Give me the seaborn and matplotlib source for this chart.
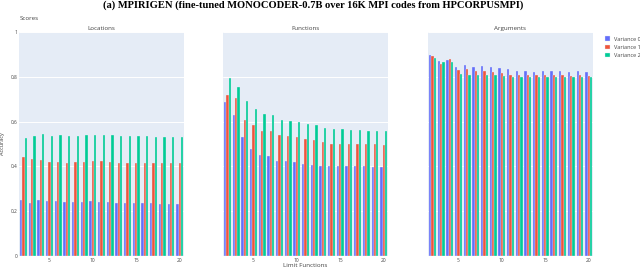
import matplotlib
matplotlib.use("Agg")
import matplotlib.pyplot as plt
import seaborn as sns
import pandas as pd
import numpy as np

limits = list(range(2, 21))
series = ["Variance 0", "Variance 1", "Variance 2"]
colors = ["#636EFA", "#EF553B", "#00CC96"]

loc_v0 = [0.250, 0.238, 0.250, 0.246, 0.246, 0.241, 0.241, 0.243, 0.244, 0.241,
          0.241, 0.237, 0.237, 0.235, 0.235, 0.235, 0.234, 0.234, 0.234]
loc_v1 = [0.443, 0.434, 0.428, 0.420, 0.420, 0.416, 0.419, 0.420, 0.425, 0.423,
          0.420, 0.417, 0.417, 0.416, 0.416, 0.414, 0.414, 0.413, 0.413]
loc_v2 = [0.529, 0.535, 0.544, 0.535, 0.539, 0.535, 0.537, 0.539, 0.542, 0.541,
          0.538, 0.535, 0.535, 0.535, 0.534, 0.532, 0.532, 0.531, 0.531]

fun_v0 = [0.687, 0.630, 0.531, 0.477, 0.449, 0.446, 0.426, 0.423, 0.420, 0.410,
          0.408, 0.402, 0.402, 0.402, 0.402, 0.404, 0.402, 0.399, 0.399]
fun_v1 = [0.720, 0.705, 0.605, 0.584, 0.557, 0.557, 0.540, 0.535, 0.531, 0.523,
          0.517, 0.508, 0.502, 0.502, 0.502, 0.501, 0.499, 0.498, 0.496]
fun_v2 = [0.794, 0.753, 0.693, 0.656, 0.635, 0.629, 0.608, 0.602, 0.599, 0.589,
          0.583, 0.572, 0.568, 0.566, 0.563, 0.562, 0.559, 0.557, 0.557]

arg_v0 = [0.899, 0.872, 0.876, 0.845, 0.851, 0.844, 0.847, 0.845, 0.839, 0.835,
          0.827, 0.827, 0.823, 0.826, 0.826, 0.826, 0.823, 0.826, 0.823]
arg_v1 = [0.894, 0.858, 0.881, 0.829, 0.833, 0.827, 0.824, 0.823, 0.818, 0.809,
          0.809, 0.809, 0.806, 0.806, 0.806, 0.806, 0.805, 0.806, 0.805]
arg_v2 = [0.882, 0.864, 0.867, 0.811, 0.809, 0.809, 0.809, 0.809, 0.805, 0.799,
          0.797, 0.797, 0.797, 0.797, 0.797, 0.797, 0.797, 0.797, 0.797]

panels = [("Locations", [loc_v0, loc_v1, loc_v2]),
          ("Functions", [fun_v0, fun_v1, fun_v2]),
          ("Arguments", [arg_v0, arg_v1, arg_v2])]

title = "(a) MPIRIGEN (fine-tuned MONOCODER-0.7B over 16K MPI codes from HPCORPUSMPI)"

sns.set_theme(style="darkgrid")
plt.rcParams["font.family"] = ["Open Sans", "DejaVu Sans"]

W, H = 640, 269
fig = plt.figure(figsize=(W / 100, H / 100), dpi=100)
fig.patch.set_facecolor("white")

lefts = [19, 223, 428]
width_px = 165
top_px, bot_px = 32, 256
txt = "#444444"

for i, (name, vals) in enumerate(panels):
    ax = fig.add_axes([lefts[i] / W, 1 - bot_px / H, width_px / W, (bot_px - top_px) / H])
    ax.set_facecolor("#E5ECF6")
    df = pd.DataFrame({
        "limit": np.tile(limits, 3),
        "acc": np.concatenate(vals),
        "series": np.repeat(series, len(limits)),
    })
    sns.barplot(data=df, x="limit", y="acc", hue="series", palette=colors,
                ax=ax, width=0.8, edgecolor="#E5ECF6", linewidth=0.25,
                legend=(i == 2), saturation=1)
    ax.set_xlim(-0.5, len(limits) - 0.5)
    ax.set_ylim(0, 1)
    ax.set_yticks([0, 0.2, 0.4, 0.6, 0.8, 1])
    ax.grid(axis="y", color="white", linewidth=0.7)
    ax.grid(axis="x", visible=False)
    ax.set_axisbelow(True)
    tick_pos = [limits.index(v) for v in (5, 10, 15, 20)]
    ax.set_xticks(tick_pos)
    ax.set_xticklabels(["5", "10", "15", "20"])
    ax.tick_params(axis="both", labelsize=3.5, colors=txt, length=0, pad=1.2)
    if i == 0:
        ax.set_yticklabels(["0", "0.2", "0.4", "0.6", "0.8", "1"])
        ax.set_ylabel("Accuracy", fontsize=4, color=txt, labelpad=4)
    else:
        ax.set_yticklabels([])
        ax.set_ylabel("")
    if i == 1:
        ax.set_xlabel("Limit Functions", fontsize=4.5, color=txt, labelpad=0.5)
    else:
        ax.set_xlabel("")
    for s in ax.spines.values():
        s.set_visible(False)
    ax.set_title(name, fontsize=4.5, color=txt, pad=1.5)
    if i == 2:
        leg = ax.legend(loc="upper left", bbox_to_anchor=(1.06, 0.99), frameon=False,
                        fontsize=4, handlelength=0.8, handleheight=0.8,
                        handletextpad=0.8, labelspacing=0.6, borderaxespad=0)
        for t in leg.get_texts():
            t.set_color(txt)

fig.text(20 / W, 1 - 18 / H, "Scores", fontsize=4.5, color=txt, va="center", ha="left")
fig.text(313 / W, 1 - 0.5 / H, title, fontsize=7.6, fontweight="bold",
         family="Liberation Serif", ha="center", va="top", color="black")

fig.savefig("out.png", dpi=100, facecolor="white")
